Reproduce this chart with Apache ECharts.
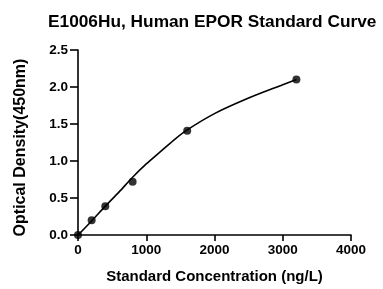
<!DOCTYPE html>
<html>
<head>
<meta charset="utf-8">
<script src="https://cdn.jsdelivr.net/npm/echarts@6/dist/echarts.min.js"></script>
<style>
html, body { margin: 0; padding: 0; background: #fff; }
#chart { width: 383px; height: 289px; }
</style>
</head>
<body>
<div id="chart"></div>
<script>
// standard points
var conc = [0, 200, 400, 800, 1600, 3200];
var od = [0, 0.20, 0.39, 0.72, 1.41, 2.10];

// fitted curve
var curveX = [0, 200, 400, 600, 800, 1000, 1200, 1400, 1600, 2000, 2500, 3000, 3200];
var curveY = [0, 0.19, 0.39, 0.58, 0.78, 0.96, 1.12, 1.28, 1.42, 1.64, 1.85, 2.03, 2.10];

var font = 'Liberation Sans, Arial, sans-serif';

var myChart = echarts.init(document.getElementById('chart'));

var option = {
    animation: false,
    title: {
        text: 'E1006Hu, Human EPOR Standard Curve',
        left: 43,
        top: 9,
        textStyle: { fontFamily: font, fontSize: 17.3, fontWeight: 'bold', color: '#000' }
    },
    grid: { left: 78, right: 32, top: 50, bottom: 49 },
    xAxis: {
        type: 'value',
        min: 0, max: 4000, interval: 1000,
        name: 'Standard Concentration (ng/L)',
        nameLocation: 'middle',
        nameGap: 34,
        nameTextStyle: { fontFamily: font, fontSize: 15, fontWeight: 'bold', color: '#000' },
        axisLine: { lineStyle: { color: '#000', width: 1.6 } },
        axisTick: { length: 6, lineStyle: { color: '#000', width: 1.6 } },
        axisLabel: {
            fontFamily: font, fontSize: 13.5, fontWeight: 'bold', color: '#000', margin: 8,
            formatter: function (v) { return String(v); }
        },
        splitLine: { show: false }
    },
    yAxis: {
        type: 'value',
        min: 0, max: 2.5, interval: 0.5,
        name: 'Optical Density(450nm)',
        nameLocation: 'middle',
        nameGap: 49,
        nameTextStyle: { fontFamily: font, fontSize: 16, fontWeight: 'bold', color: '#000', padding: [0, 10, 0, 0] },
        axisLine: { show: true, lineStyle: { color: '#000', width: 1.6 } },
        axisTick: { show: true, length: 8, lineStyle: { color: '#000', width: 1.6 } },
        axisLabel: {
            fontFamily: font, fontSize: 13.5, fontWeight: 'bold', color: '#000', margin: 10,
            formatter: function (v) { return v.toFixed(1); }
        },
        splitLine: { show: false }
    },
    series: [
        {
            type: 'line',
            data: curveX.map(function (x, i) { return [x, curveY[i]]; }),
            smooth: 0.3,
            showSymbol: false,
            lineStyle: { color: '#000', width: 1.6 },
            z: 2
        },
        {
            type: 'scatter',
            data: conc.map(function (x, i) { return [x, od[i]]; }),
            symbol: 'circle',
            symbolSize: 8,
            itemStyle: { color: '#000' },
            z: 3
        }
    ]
};
myChart.setOption(option);
</script>
</body>
</html>
